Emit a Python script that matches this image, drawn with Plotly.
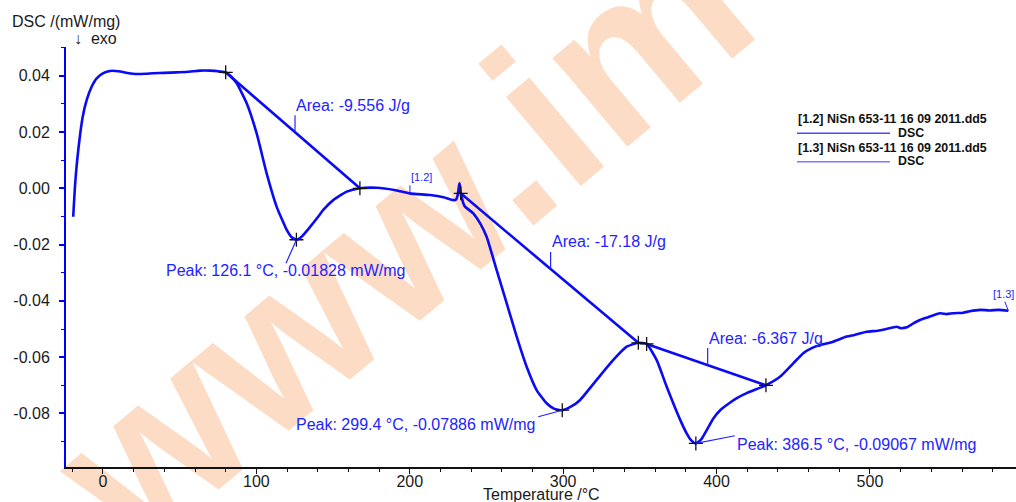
import plotly.graph_objects as go

# ---------------- data ----------------
# segment [1.2]
seg12_T = [-19.4, -18.1, -16.1, -13.2, -10.6, -7.4, -4.1, 0.2, 4.6, 10, 16, 22, 28, 32.8, 40, 48, 56, 63.2,
           69.7, 76.3, 80.0, 83.0, 87.2, 93.7, 100.2, 106.7, 113.2, 119.8, 123.0, 126.1, 129.5, 134.9, 140.0,
           143.6, 150.1, 158.9, 167.5, 178.4, 190.0, 200.1, 213.2, 222.0, 228.4, 230.2, 231.2, 232.0, 232.4,
           232.8, 233.2]
seg12_V = [-0.0101, 0.0018, 0.0136, 0.0254, 0.0314, 0.0361, 0.0391, 0.0409, 0.0417, 0.0416, 0.0410, 0.0406,
           0.0407, 0.0409, 0.0410, 0.0412, 0.0414, 0.0418, 0.0418, 0.0415, 0.0412, 0.0400, 0.0373, 0.0302,
           0.0195, 0.0053, -0.0065, -0.0148, -0.0174, -0.01828, -0.0172, -0.0138, -0.0103, -0.0077, -0.0042,
           -0.0012, 0.0000, 0.0002, -0.0006, -0.0018, -0.0024, -0.0032, -0.0042, -0.0040, -0.0025, 0.0005,
           0.0018, 0.0005, -0.0018]

# segment [1.3]
seg13_T = [233.2, 234.9, 236.0, 241.4, 245.8, 250.1, 256.6, 263.2, 269.7, 276.2, 282.7, 289.2, 294.0, 299.4,
           305.0, 310.9, 321.8, 332.7, 341.4, 349.0, 354.4, 360.9, 367.5, 376.3, 380.5, 383.5, 386.5, 390.0,
           393.5, 397.9, 402.5, 408.7, 413.5, 419.6, 432.2, 441.3, 450.0, 456.5, 462.0, 467.5, 475.0, 484.8,
           490.0, 497.8, 505.0, 510.0, 517.4, 520.0, 523.9, 528.0, 532.6, 538.0, 545.6, 550.0, 554.3, 560.8,
           565.0, 571.7, 578.0, 584.0, 590.2]
seg13_V = [-0.0018, -0.0053, -0.0065, -0.0089, -0.0124, -0.0172, -0.0290, -0.0409, -0.0527, -0.0634, -0.0717,
           -0.0764, -0.0783, -0.07886, -0.0776, -0.0753, -0.0681, -0.0610, -0.0563, -0.0549, -0.0553, -0.0610,
           -0.0705, -0.0823, -0.0871, -0.0896, -0.09067, -0.0892, -0.0860, -0.0818, -0.0788, -0.0762, -0.0745,
           -0.0728, -0.0700, -0.0670, -0.0622, -0.0586, -0.0568, -0.0557, -0.0547, -0.0527, -0.0521, -0.0510,
           -0.0506, -0.0501, -0.0492, -0.0497, -0.0494, -0.0481, -0.0468, -0.0458, -0.0444, -0.0447, -0.0444,
           -0.0442, -0.0437, -0.0432, -0.0434, -0.0432, -0.0435]

# integration baselines (start T, start V, end T, end V)
base_T = [[80.0, 167.5], [233.2, 349.0], [354.4, 432.2]]
base_V = [[0.0412, 0.0000], [-0.0018, -0.0549], [-0.0553, -0.0700]]
area_labels = ["Area: -9.556 J/g", "Area: -17.18 J/g", "Area: -6.367 J/g"]
area_tick_T = [125.2, 291.8, 394.2]

# peaks
peak_T = [126.1, 299.4, 386.5]
peak_V = [-0.01828, -0.07886, -0.09067]
peak_labels = ["Peak: 126.1 °C, -0.01828 mW/mg", "Peak: 299.4 °C, -0.07886 mW/mg",
               "Peak: 386.5 °C, -0.09067 mW/mg"]

x_ticks = [0, 100, 200, 300, 400, 500]
y_ticks = [0.04, 0.02, 0.00, -0.02, -0.04, -0.06, -0.08]
y_ticktext = ["0.04", "0.02", "0.00", "-0.02", "-0.04", "-0.06", "-0.08"]

legend_files = ["[1.2] NiSn 653-11 16 09 2011.dd5", "[1.3] NiSn 653-11 16 09 2011.dd5"]
legend_items = ["DSC", "DSC"]

# ---------------- layout geometry ----------------
W, H = 1016, 502
L, R, T, B = 66, 0, 47, 35
XR = [-24.1, 595.2]
YR = [-0.09904, 0.05021]
PW, PH = W - L - R, H - T - B

def dx(p):  # pixel delta -> data delta (x)
    return p * (XR[1] - XR[0]) / PW

def dy(p):  # pixel delta (down positive) -> data delta (y)
    return -p * (YR[1] - YR[0]) / PH

def xp(px):
    return (px - L) / PW

def yp(py):
    return (H - B - py) / PH

BLUE = "#0a0af5"
TXTBLUE = "#2323ff"
FONT = "Liberation Sans, Arial, sans-serif"

fig = go.Figure()

fig.add_trace(go.Scatter(x=seg12_T, y=seg12_V, mode="lines", name="[1.2] DSC",
                         line=dict(color=BLUE, width=2.6, shape="spline", smoothing=0.5)))
fig.add_trace(go.Scatter(x=seg13_T, y=seg13_V, mode="lines", name="[1.3] DSC",
                         line=dict(color=BLUE, width=2.6, shape="spline", smoothing=0.5)))
for bt, bv in zip(base_T, base_V):
    fig.add_trace(go.Scatter(x=bt, y=bv, mode="lines", line=dict(color=BLUE, width=2.6)))

# '+' markers at peaks and baseline limits
mk_T = peak_T + [t for bt in base_T for t in bt]
mk_V = peak_V + [v for bv in base_V for v in bv]
fig.add_trace(go.Scatter(x=mk_T, y=mk_V, mode="markers",
                         marker=dict(symbol="cross-thin", size=10, line=dict(color="#111", width=1.3))))

shapes = []
annotations = []

# area labels: tick up from the baseline + text
for (bt, bv), lab, tt in zip(zip(base_T, base_V), area_labels, area_tick_T):
    vb = bv[0] + (bv[1] - bv[0]) * (tt - bt[0]) / (bt[1] - bt[0])
    shapes.append(dict(type="line", xref="x", yref="y", x0=tt, x1=tt, y0=vb, y1=vb + dy(-17),
                       line=dict(color=TXTBLUE, width=1.2)))
    annotations.append(dict(x=tt, y=vb + dy(-27), xref="x", yref="y", text=lab, showarrow=False,
                            xanchor="left", yanchor="middle", borderpad=0,
                            font=dict(family=FONT, size=16, color=TXTBLUE)))

# peak labels: leader line + text (pixel offsets)
leader = [(-10.4, 23.6), (-24.0, 6.5), (39.0, -7.7)]
text_off = [(-131.4, 30.3), (-266.8, 13.8), (40.3, 0.9)]
for t, v, lab, (lx, ly), (tx, ty) in zip(peak_T, peak_V, peak_labels, leader, text_off):
    shapes.append(dict(type="line", xref="x", yref="y", x0=t, y0=v, x1=t + dx(lx), y1=v + dy(ly),
                       line=dict(color=TXTBLUE, width=1.2)))
    annotations.append(dict(x=t + dx(tx), y=v + dy(ty), xref="x", yref="y", text=lab, showarrow=False,
                            xanchor="left", yanchor="middle", borderpad=0,
                            font=dict(family=FONT, size=16, color=TXTBLUE)))

# segment labels [1.2] and [1.3]
t12, v12 = seg12_T[39], seg12_V[39]
shapes.append(dict(type="line", xref="x", yref="y", x0=t12, x1=t12, y0=v12, y1=v12 + dy(-8),
                   line=dict(color=TXTBLUE, width=1)))
annotations.append(dict(x=t12, y=v12 + dy(-16.5), xref="x", yref="y", text="[1.2]", showarrow=False,
                        xanchor="left", yanchor="middle", borderpad=0,
                        font=dict(family=FONT, size=11, color=TXTBLUE)))
t13, v13 = seg13_T[-1], seg13_V[-1]
shapes.append(dict(type="line", xref="x", yref="y", x0=t13, y0=v13, x1=t13 + dx(-3.5), y1=v13 + dy(-9),
                   line=dict(color=TXTBLUE, width=1)))
annotations.append(dict(x=t13 + dx(-4.5), y=v13 + dy(-16.5), xref="x", yref="y", text="[1.3]",
                        showarrow=False, xanchor="center", yanchor="middle", borderpad=0,
                        font=dict(family=FONT, size=11, color=TXTBLUE)))

# axis titles
annotations.append(dict(x=xp(11), y=yp(21), xref="paper", yref="paper", text="DSC /(mW/mg)",
                        showarrow=False, xanchor="left", yanchor="middle", borderpad=0,
                        font=dict(family=FONT, size=16, color="#1a1a1a")))
annotations.append(dict(x=xp(73), y=yp(38), xref="paper", yref="paper", text="↓  exo",
                        showarrow=False, xanchor="left", yanchor="middle", borderpad=0,
                        font=dict(family=FONT, size=16, color="#1a1a1a")))
annotations.append(dict(x=xp(541), y=yp(494.5), xref="paper", yref="paper", text="Temperature /°C",
                        showarrow=False, xanchor="center", yanchor="middle", borderpad=0,
                        font=dict(family=FONT, size=16, color="#1a1a1a")))

# legend (manual)
leg_colors = ["#4a4aff", "#7a7aff"]
for i, (f, it) in enumerate(zip(legend_files, legend_items)):
    y0 = 119 + 28.5 * i
    annotations.append(dict(x=xp(796.5), y=yp(y0), xref="paper", yref="paper", text="<b>%s</b>" % f,
                            showarrow=False, xanchor="left", yanchor="middle", borderpad=0,
                            font=dict(family=FONT, size=12.4, color="#111")))
    annotations.append(dict(x=xp(896.5), y=yp(y0 + 13.5), xref="paper", yref="paper", text="<b>%s</b>" % it,
                            showarrow=False, xanchor="left", yanchor="middle", borderpad=0,
                            font=dict(family=FONT, size=12.4, color="#111")))
    shapes.append(dict(type="line", xref="paper", yref="paper", x0=xp(797), x1=xp(890),
                       y0=yp(y0 + 14.3), y1=yp(y0 + 14.3), line=dict(color=leg_colors[i], width=1.5)))

# watermark (below the data)
cx, cy = 388, 221
shapes.append(dict(type="rect", xref="paper", yref="paper", x0=xp(cx - 10), x1=xp(cx + 10),
                   y0=yp(cy + 10), y1=yp(cy - 10), line=dict(width=0), fillcolor="rgba(0,0,0,0)",
                   layer="below",
                   label=dict(text="www.im", textangle=-40, textposition="middle center",
                              font=dict(family=FONT, size=220, color="#fcdcc5", weight="bold"))))

fig.update_layout(
    width=W, height=H, margin=dict(l=L, r=R, t=T, b=B, pad=0),
    paper_bgcolor="white", plot_bgcolor="rgba(0,0,0,0)", showlegend=False,
    shapes=shapes, annotations=annotations,
    xaxis=dict(range=XR, tickvals=x_ticks, ticktext=[str(v) for v in x_ticks], showgrid=False,
               zeroline=False, showline=True, linecolor="#111", linewidth=1.5, ticks="outside",
               ticklen=5, tickcolor="#111", tickwidth=1, ticklabelstandoff=-6,
               tickfont=dict(family=FONT, size=16, color="#1a1a1a"),
               minor=dict(dtick=20, tick0=0, ticks="outside", ticklen=3, tickcolor="#111", tickwidth=1)),
    yaxis=dict(range=YR, tickvals=y_ticks, ticktext=y_ticktext, showgrid=False, zeroline=False,
               showline=True, linecolor="#0000ff", linewidth=2, ticks="outside", ticklen=5,
               tickcolor="#0000ff", tickwidth=1.5, ticklabelstandoff=6,
               tickfont=dict(family=FONT, size=16, color="#1a1a1a"),
               minor=dict(dtick=0.01, tick0=0, ticks="outside", ticklen=3, tickcolor="#0000ff",
                          tickwidth=1.2)),
)

fig.write_html("out.html", config={"displayModeBar": False},
               post_script="document.body.style.margin='0';document.body.style.overflow='hidden';")
